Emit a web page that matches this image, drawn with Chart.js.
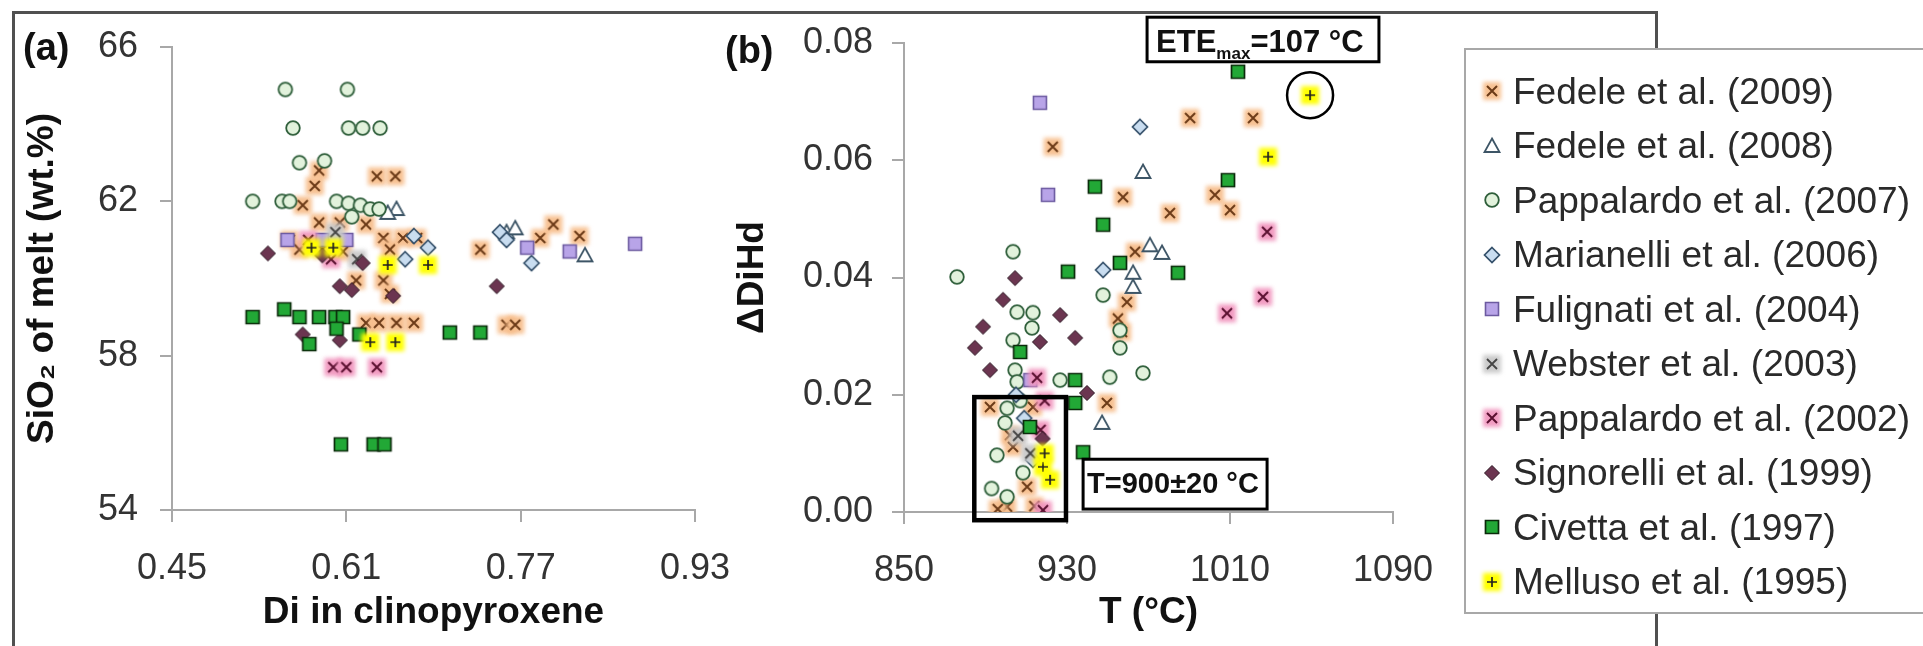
<!DOCTYPE html>
<html><head><meta charset="utf-8">
<script src="https://cdn.jsdelivr.net/npm/chart.js@4.4.1/dist/chart.umd.min.js"></script>
<style>
html,body{margin:0;padding:0;background:#fff;width:1923px;height:646px;overflow:hidden;font-family:"Liberation Sans",Arial,sans-serif;}
#frame{position:absolute;left:12px;top:11px;width:1646px;height:700px;border:3px solid #505050;box-sizing:border-box;}
canvas.chart{position:absolute;top:0;}
#ca{left:0px}
#cb{left:700px}
.plab{position:absolute;font-weight:bold;font-size:38px;color:#111;line-height:1;}
#legend{position:absolute;left:1464px;top:48px;width:520px;height:566px;border:2px solid #a8a8a8;background:#fff;box-sizing:border-box;}
.li{position:absolute;left:0;height:54px;display:flex;align-items:center;white-space:nowrap;}
.li canvas{margin-left:12px;margin-right:7px;}
.li span{font-size:37px;color:#2a2a2a;line-height:1;}
</style></head>
<body>
<div id="frame"></div>
<canvas id="ca" class="chart" width="760" height="646"></canvas>
<canvas id="cb" class="chart" width="760" height="646"></canvas>
<div class="plab" style="left:23px;top:28px">(a)</div>
<div class="plab" style="left:725px;top:31px">(b)</div>
<div id="legend"></div>
<script>
// ---------- tick labels ----------
const xTicksA = [0.45, 0.61, 0.77, 0.93];
const yTicksA = [54, 58, 62, 66];
const xTicksB = [850, 930, 1010, 1090];
const yTicksB = [0.00, 0.02, 0.04, 0.06, 0.08];

// ---------- series names ----------
const seriesNames = ['Fedele et al. (2009)', 'Fedele et al. (2008)', 'Pappalardo et al. (2007)', 'Marianelli et al. (2006)',
  'Fulignati et al. (2004)', 'Webster et al. (2003)', 'Pappalardo et al. (2002)', 'Signorelli et al. (1999)',
  'Civetta et al. (1997)', 'Melluso et al. (1995)'];

// ---------- panel (a): [Di in clinopyroxene, SiO2 of melt] ----------
const fedele2009A = [[0.585,62.8],[0.581,62.4],[0.638,62.65],[0.655,62.65],[0.570,61.9],[0.585,61.45],[0.604,61.45],[0.628,61.4],
  [0.558,61.0],[0.567,60.75],[0.588,60.75],[0.607,60.7],[0.644,61.05],[0.662,61.05],[0.675,61.05],[0.650,60.75],[0.619,59.95],
  [0.644,59.95],[0.650,59.6],[0.628,58.85],[0.640,58.85],[0.656,58.85],[0.672,58.85],[0.733,60.75],[0.788,61.05],[0.800,61.4],
  [0.824,61.1],[0.757,58.8],[0.765,58.8]];
const fedele2008A = [[0.656,61.8],[0.648,61.7],[0.757,61.2],[0.765,61.3],[0.829,60.6]];
const pappalardo2007A = [[0.554,64.9],[0.611,64.9],[0.561,63.9],[0.612,63.9],[0.625,63.9],[0.641,63.9],[0.567,63.0],[0.590,63.05],
  [0.524,62.0],[0.551,62.0],[0.558,62.0],[0.601,62.0],[0.612,61.95],[0.623,61.9],[0.632,61.8],[0.640,61.8],[0.615,61.6]];
const marianelli2006A = [[0.751,61.2],[0.757,61.0],[0.780,60.4],[0.685,60.8],[0.672,61.1],[0.664,60.5]];
const fulignati2004A = [[0.556,61.0],[0.588,61.0],[0.610,61.0],[0.776,60.8],[0.815,60.7],[0.875,60.9]];
const webster2003A = [[0.600,61.2],[0.620,60.5]];
const pappalardo2002A = [[0.598,57.7],[0.610,57.7],[0.638,57.7],[0.575,61.0],[0.596,60.5]];
const signorelli1999A = [[0.538,60.65],[0.604,59.8],[0.615,59.7],[0.653,59.55],[0.570,58.55],[0.604,58.4],[0.625,60.4],[0.748,59.8],[0.588,60.6]];
const civetta1997A = [[0.524,59.0],[0.553,59.2],[0.567,59.0],[0.585,59.0],[0.600,59.0],[0.607,59.0],[0.576,58.3],[0.601,58.7],
  [0.622,58.55],[0.705,58.6],[0.733,58.6],[0.605,55.7],[0.635,55.7],[0.645,55.7]];
const melluso1995A = [[0.648,60.35],[0.685,60.35],[0.632,58.35],[0.655,58.35],[0.578,60.8],[0.598,60.8]];

// ---------- panel (b): [T (°C), ΔDiHd] ----------
const fedele2009B = [[923,0.0623],[957.5,0.0537],[959.4,0.0358],[990.4,0.0672],[1021.3,0.0672],[1002.6,0.0541],[1010,0.0515],
  [980.5,0.051],[963.4,0.0444],[949.6,0.0186],[957,0.0307],[892.2,0.0179],[913.3,0.0179],[902,0.0131],[903.5,0.0111],[910.4,0.0043],
  [900.6,0.0009],[955,0.033],[896,0.0005],[914,0.001]];
const fedele2008B = [[967.3,0.058],[970.7,0.0455],[976.6,0.0442],[962.4,0.0408],[962.4,0.0384],[947.2,0.0152]];
const pappalardo2007B = [[903.5,0.0444],[876,0.0401],[947.7,0.037],[905.5,0.0341],[913.3,0.034],[912.8,0.0314],[903.5,0.0293],
  [904.5,0.0242],[905.5,0.0222],[926.6,0.0225],[951,0.023],[967.3,0.0237],[900.6,0.0177],[899.6,0.0152],[895.6,0.0097],
  [908.4,0.0067],[900.6,0.0026],[956,0.031],[956,0.028],[907,0.019],[893,0.004]];
const marianelli2006B = [[965.8,0.0657],[947.7,0.0413],[913.3,0.0089],[905,0.020],[909,0.016]];
const fulignati2004B = [[916.7,0.0698],[920.7,0.0541],[912,0.0225]];
const webster2003B = [[906,0.013],[912,0.010]];
const pappalardo2002B = [[1028.2,0.0478],[1026.2,0.0367],[1008.5,0.0339],[915.3,0.0229],[918.2,0.0003],[917,0.014],[919,0.019]];
const signorelli1999B = [[904.5,0.0399],[898.6,0.0362],[926.6,0.0336],[888.8,0.0316],[916.7,0.029],[934,0.0297],[884.8,0.028],
  [892.2,0.0242],[939.8,0.0203],[918,0.0125]];
const civetta1997B = [[1013.9,0.0751],[1009,0.0566],[984.5,0.0408],[943.7,0.0555],[947.7,0.049],[930.5,0.041],[956,0.0425],
  [907,0.0273],[934,0.0225],[934,0.0186],[911.8,0.0145],[937.9,0.0102]];
const melluso1995B = [[1049.3,0.0711],[1028.7,0.0606],[918.2,0.0077],[921.7,0.0055],[919,0.010]];

// ---------- annotations (data coordinates of panel b) ----------
const tBoxX = [884.5, 929.5], tBoxY = [-0.0014, 0.0196];
const tLabelX = [937.9, 1028.2], tLabelY = [0.0090, 0.0005];
const eteBoxX = [969.3, 1083.1], eteBoxY = [0.0844, 0.0768];

const FONT = '"Liberation Sans", Arial, sans-serif';

function marker(kind, stroke, fill, glow, lw) {
  const S = 28, c = document.createElement('canvas'); c.width = S; c.height = S;
  const g = c.getContext('2d'), m = S / 2;
  if (glow) { g.save(); g.filter = 'blur(2px)'; g.fillStyle = glow; g.fillRect(m - 9, m - 9, 18, 18); g.restore(); }
  g.lineWidth = lw; g.strokeStyle = stroke; g.fillStyle = fill || 'rgba(0,0,0,0)';
  g.beginPath();
  if (kind === 'circle') g.arc(m, m, 6.8, 0, Math.PI * 2);
  else if (kind === 'square') g.rect(m - 6.5, m - 6.5, 13, 13);
  else if (kind === 'diamond') { g.moveTo(m, m - 7.5); g.lineTo(m + 7.5, m); g.lineTo(m, m + 7.5); g.lineTo(m - 7.5, m); g.closePath(); }
  else if (kind === 'triangle') { g.moveTo(m, m - 7.5); g.lineTo(m + 7.5, m + 6); g.lineTo(m - 7.5, m + 6); g.closePath(); }
  if (kind === 'x') { g.moveTo(m - 5, m - 5); g.lineTo(m + 5, m + 5); g.moveTo(m + 5, m - 5); g.lineTo(m - 5, m + 5); g.stroke(); }
  else if (kind === 'plus') { g.moveTo(m - 5, m); g.lineTo(m + 5, m); g.moveTo(m, m - 5); g.lineTo(m, m + 5); g.stroke(); }
  else { if (fill) g.fill(); g.stroke(); }
  return c;
}

const styles = [
  marker('x', '#6b3a17', null, 'rgba(247,190,140,0.95)', 2),
  marker('triangle', '#3d5566', '#ffffff', null, 1.8),
  marker('circle', '#2e5e3a', '#e2f2dc', null, 1.8),
  marker('diamond', '#34506a', '#c9ddf0', null, 1.7),
  marker('square', '#6c5aa0', '#b8a4e8', null, 1.6),
  marker('x', '#444444', null, 'rgba(200,200,200,0.95)', 1.8),
  marker('x', '#5a1030', null, 'rgba(240,150,190,0.95)', 2),
  marker('diamond', '#2a1520', '#6b3550', null, 1.0),
  marker('square', '#0b2a0b', '#22a836', null, 1.7),
  marker('plus', '#222222', null, 'rgba(255,255,0,1)', 1.7)
];

const dataA = [fedele2009A, fedele2008A, pappalardo2007A, marianelli2006A, fulignati2004A, webster2003A, pappalardo2002A, signorelli1999A, civetta1997A, melluso1995A];
const dataB = [fedele2009B, fedele2008B, pappalardo2007B, marianelli2006B, fulignati2004B, webster2003B, pappalardo2002B, signorelli1999B, civetta1997B, melluso1995B];

function buildDatasets(arrs) {
  const ds = seriesNames.map((n, i) => ({
    label: n, data: arrs[i].map(p => ({ x: p[0], y: p[1] })),
    pointStyle: styles[i], pointRadius: 7, showLine: false
  }));
  return ds.reverse(); // first series drawn at the bottom
}

function axis(ticksArr, min, max, fmt, isX, fitSize, titleText, titlePad, labelPad) {
  return {
    type: 'linear', min: min, max: max,
    afterBuildTicks: sc => { sc.ticks = ticksArr.map(v => ({ value: v })); },
    afterFit: sc => { if (isX) sc.height = fitSize; else sc.width = fitSize; },
    ticks: { autoSkip: false, maxRotation: 0, padding: labelPad, color: '#333', font: { family: FONT, size: 36 }, callback: v => fmt(v) },
    grid: { drawOnChartArea: false, drawTicks: true, tickLength: 12, color: '#a8a8a8', lineWidth: 2 },
    border: { display: true, color: '#a8a8a8', width: 2 },
    title: { display: true, text: titleText, color: '#111', font: { family: FONT, size: 37, weight: 'bold' }, padding: titlePad }
  };
}

const common = {
  responsive: false, animation: false, devicePixelRatio: 1, events: [],
  plugins: { legend: { display: false }, tooltip: { enabled: false } }
};

new Chart(document.getElementById('ca'), {
  type: 'scatter',
  data: { datasets: buildDatasets(dataA) },
  options: Object.assign({}, common, {
    layout: { padding: { left: 0, right: 65, top: 47, bottom: 0 } },
    scales: {
      x: axis(xTicksA, 0.45, 0.93, v => v.toFixed(2), true, 136, 'Di in clinopyroxene', { top: 0, bottom: 11 }, 25),
      y: axis(yTicksA, 54, 66, v => v.toFixed(0), false, 172, 'SiO\u2082 of melt (wt.%)', { top: 21, bottom: 0 }, 22)
    }
  })
});

const annot = {
  id: 'annot',
  afterDraw(chart) {
    const { ctx, scales: { x, y } } = chart;
    ctx.save();
    ctx.strokeStyle = '#000';
    // T box
    ctx.lineWidth = 4.5;
    const bx0 = x.getPixelForValue(tBoxX[0]), bx1 = x.getPixelForValue(tBoxX[1]);
    const by0 = y.getPixelForValue(tBoxY[1]), by1 = y.getPixelForValue(tBoxY[0]);
    ctx.strokeRect(bx0, by0, bx1 - bx0, by1 - by0);
    // T label
    const lx0 = x.getPixelForValue(tLabelX[0]), lx1 = x.getPixelForValue(tLabelX[1]);
    const ly0 = y.getPixelForValue(tLabelY[0]), ly1 = y.getPixelForValue(tLabelY[1]);
    ctx.fillStyle = '#fff'; ctx.fillRect(lx0, ly0, lx1 - lx0, ly1 - ly0);
    ctx.lineWidth = 3; ctx.strokeRect(lx0, ly0, lx1 - lx0, ly1 - ly0);
    ctx.fillStyle = '#111'; ctx.textBaseline = 'middle'; ctx.textAlign = 'left';
    ctx.font = 'bold 29px ' + FONT;
    ctx.fillText('T=900\u00b120 \u00b0C', lx0 + 4, (ly0 + ly1) / 2 + 1);
    // ETE box
    const ex0 = x.getPixelForValue(eteBoxX[0]), ex1 = x.getPixelForValue(eteBoxX[1]);
    const ey0 = y.getPixelForValue(eteBoxY[0]), ey1 = y.getPixelForValue(eteBoxY[1]);
    ctx.fillStyle = '#fff'; ctx.fillRect(ex0, ey0, ex1 - ex0, ey1 - ey0);
    ctx.lineWidth = 3; ctx.strokeRect(ex0, ey0, ex1 - ex0, ey1 - ey0);
    ctx.fillStyle = '#111'; ctx.textBaseline = 'alphabetic';
    const base = ey1 - 10;
    let tx = ex0 + 9;
    ctx.font = 'bold 31px ' + FONT; ctx.fillText('ETE', tx, base); tx += ctx.measureText('ETE').width;
    ctx.font = 'bold 17px ' + FONT; ctx.fillText('max', tx, base + 7); tx += ctx.measureText('max').width;
    ctx.font = 'bold 31px ' + FONT; ctx.fillText('=107 \u00b0C', tx, base);
    // circle around max Melluso point
    let best = melluso1995B[0];
    melluso1995B.forEach(p => { if (p[1] > best[1]) best = p; });
    ctx.lineWidth = 2.5; ctx.beginPath();
    ctx.arc(x.getPixelForValue(best[0]), y.getPixelForValue(best[1]), 23, 0, Math.PI * 2); ctx.stroke();
    ctx.restore();
  }
};

new Chart(document.getElementById('cb'), {
  type: 'scatter',
  data: { datasets: buildDatasets(dataB) },
  options: Object.assign({}, common, {
    layout: { padding: { left: 0, right: 67, top: 43, bottom: 0 } },
    scales: {
      x: axis(xTicksB, 850, 1090, v => v.toFixed(0), true, 134, 'T (\u00b0C)', { top: 0, bottom: 11 }, 25),
      y: axis(yTicksB, 0, 0.08, v => v.toFixed(2), false, 204, '\u0394DiHd', { top: 31, bottom: 0 }, 19)
    }
  }),
  plugins: [annot]
});

// ---------- legend ----------
const leg = document.getElementById('legend');
seriesNames.forEach((n, i) => {
  const row = document.createElement('div'); row.className = 'li';
  row.style.top = (41 + 54.5 * i - 27) + 'px';
  const c = document.createElement('canvas'); c.width = 28; c.height = 28;
  c.getContext('2d').drawImage(styles[i], 0, 0);
  const s = document.createElement('span'); s.textContent = n;
  row.appendChild(c); row.appendChild(s); leg.appendChild(row);
});
</script>
</body></html>
